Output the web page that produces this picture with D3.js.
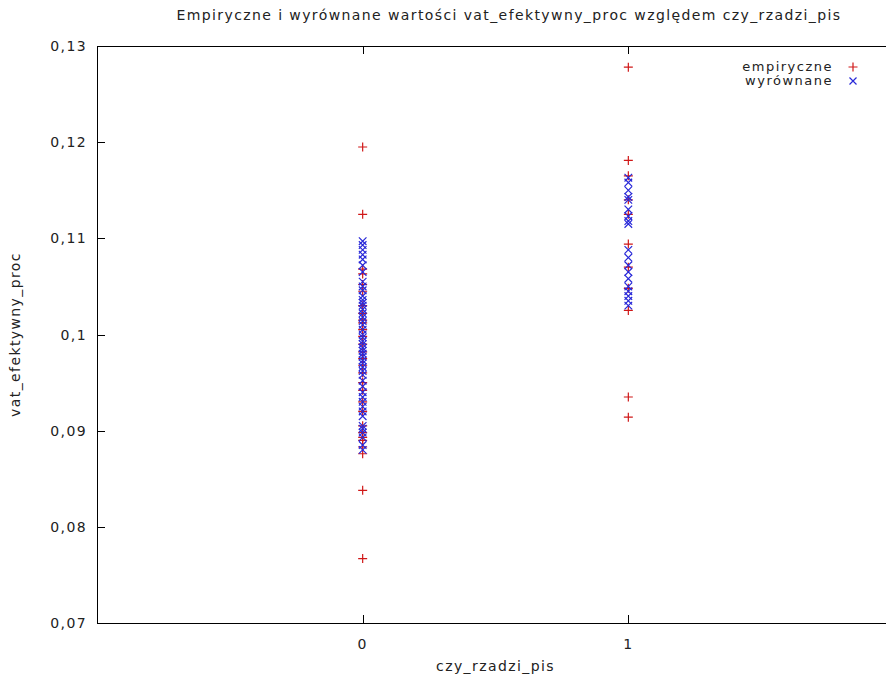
<!DOCTYPE html>
<html>
<head>
<meta charset="utf-8">
<script src="https://cdn.jsdelivr.net/npm/d3@7"></script>
<style>
body { margin: 0; background: #fff; }
text { font-family: "DejaVu Sans", sans-serif; fill: #222; font-size: 14px; letter-spacing: 1.4px; }
</style>
</head>
<body>
<div id="chart"></div>
<script>
var width = 886, height = 679;

// czy_rzadzi_pis = 0
var emp0 = [0.1195, 0.1125, 0.1068, 0.1063, 0.1052, 0.1045, 0.1030, 0.1022, 0.1015, 0.1012,
  0.1005, 0.0998, 0.0990, 0.0982, 0.0975, 0.0968, 0.0960, 0.0950, 0.0942, 0.0930,
  0.0920, 0.0905, 0.0898, 0.0893, 0.0890, 0.0883, 0.0876, 0.0838, 0.0767];
var fit0 = [0.1097, 0.1093, 0.1088, 0.1083, 0.1078, 0.1072, 0.1065, 0.1055, 0.1050, 0.1046,
  0.1040, 0.1036, 0.1033, 0.1030, 0.1026, 0.1022, 0.1018, 0.1014, 0.1010, 0.1005, 0.1000,
  0.0997, 0.0993, 0.0990, 0.0986, 0.0983, 0.0980, 0.0977, 0.0973, 0.0970, 0.0966,
  0.0962, 0.0958, 0.0952, 0.0946, 0.0940, 0.0935, 0.0930, 0.0925, 0.0920, 0.0915,
  0.0905, 0.0902, 0.0898, 0.0893, 0.0885, 0.0880];
// czy_rzadzi_pis = 1
var emp1 = [0.1278, 0.1181, 0.1165, 0.1140, 0.1125, 0.1094, 0.1070, 0.1048, 0.1025, 0.0935, 0.0914];
var fit1 = [0.1163, 0.1158, 0.1150, 0.1143, 0.1140, 0.1130, 0.1123, 0.1118, 0.1115,
  0.1088, 0.1080, 0.1072, 0.1065, 0.1058, 0.1050, 0.1045, 0.1040, 0.1035, 0.1030];

var xTicks = [0, 1];
var yTicks = [0.07, 0.08, 0.09, 0.1, 0.11, 0.12, 0.13];

var empirical = emp0.map(v => ({x: 0, y: v})).concat(emp1.map(v => ({x: 1, y: v})));
var fitted = fit0.map(v => ({x: 0, y: v})).concat(fit1.map(v => ({x: 1, y: v})));

var svg = d3.select("#chart").append("svg")
    .attr("width", width).attr("height", height);

var mLeft = 97, mRight = 894, mTop = 46, mBottom = 623;

var xs = d3.scaleLinear().domain([-1, 2]).range([mLeft, mRight]);
var ys = d3.scaleLinear().domain([0.07, 0.13]).range([mBottom, mTop]);

var fmt = d => String(+d.toFixed(2)).replace(".", ",");

// ticks (inward, mirrored)
var tl = 8;
var g = svg.append("g").attr("stroke", "#000").attr("stroke-width", 1);
yTicks.forEach(function(t) {
    var yy = Math.round(ys(t)) + 0.5;
    g.append("line").attr("x1", mLeft).attr("x2", mLeft + tl).attr("y1", yy).attr("y2", yy);
    g.append("line").attr("x1", mRight).attr("x2", mRight - tl).attr("y1", yy).attr("y2", yy);
});
xTicks.forEach(function(t) {
    var xx = Math.round(xs(t)) + 0.5;
    g.append("line").attr("x1", xx).attr("x2", xx).attr("y1", mBottom).attr("y2", mBottom - tl);
    g.append("line").attr("x1", xx).attr("x2", xx).attr("y1", mTop).attr("y2", mTop + tl);
});

svg.append("rect")
    .attr("x", mLeft + 0.5).attr("y", mTop + 0.5)
    .attr("width", mRight - mLeft).attr("height", mBottom - mTop)
    .attr("fill", "none").attr("stroke", "#000").attr("stroke-width", 1);

svg.selectAll(".ylab").data(yTicks).enter().append("text")
    .attr("x", mLeft - 10).attr("y", d => ys(d) + 5)
    .attr("text-anchor", "end")
    .text(fmt);

svg.selectAll(".xlab").data(xTicks).enter().append("text")
    .attr("x", d => xs(d)).attr("y", mBottom + 26)
    .attr("text-anchor", "middle")
    .text(d => d);

svg.append("text").attr("x", 509).attr("y", 20)
    .attr("text-anchor", "middle")
    .text("Empiryczne i wyrównane wartości vat_efektywny_proc względem czy_rzadzi_pis");

svg.append("text").attr("x", xs(0.5)).attr("y", 671)
    .attr("text-anchor", "middle")
    .text("czy_rzadzi_pis");

svg.append("text")
    .attr("transform", "translate(20," + ys(0.1) + ") rotate(-90)")
    .attr("text-anchor", "middle")
    .text("vat_efektywny_proc");

var red = "#d01818", blue = "#2828d8";

function plus(sel, cx, cy, s) {
    sel.append("path").attr("d", "M" + (cx - s) + "," + cy + "H" + (cx + s) + "M" + cx + "," + (cy - s) + "V" + (cy + s));
}
function cross(sel, cx, cy, s) {
    sel.append("path").attr("d", "M" + (cx - s) + "," + (cy - s) + "L" + (cx + s) + "," + (cy + s) + "M" + (cx - s) + "," + (cy + s) + "L" + (cx + s) + "," + (cy - s));
}

var pe = svg.append("g").attr("stroke", red).attr("stroke-width", 1.2).attr("fill", "none");
empirical.forEach(d => plus(pe, xs(d.x), ys(d.y), 4.5));

var pf = svg.append("g").attr("stroke", blue).attr("stroke-width", 1.2).attr("fill", "none");
fitted.forEach(d => cross(pf, xs(d.x), ys(d.y), 3.8));

// legend
var leg = [{label: "empiryczne", c: red, f: plus}, {label: "wyrównane", c: blue, f: cross}];
leg.forEach(function(l, i) {
    var ly = 67 + i * 14;
    svg.append("text").attr("x", 833).attr("y", ly + 4)
        .attr("text-anchor", "end").style("font-size", "13px").style("letter-spacing", "1.5px")
        .text(l.label);
    var gg = svg.append("g").attr("stroke", l.c).attr("stroke-width", 1.2).attr("fill", "none");
    l.f(gg, 853, ly, i == 0 ? 4.5 : 3.5);
});
</script>
</body>
</html>
